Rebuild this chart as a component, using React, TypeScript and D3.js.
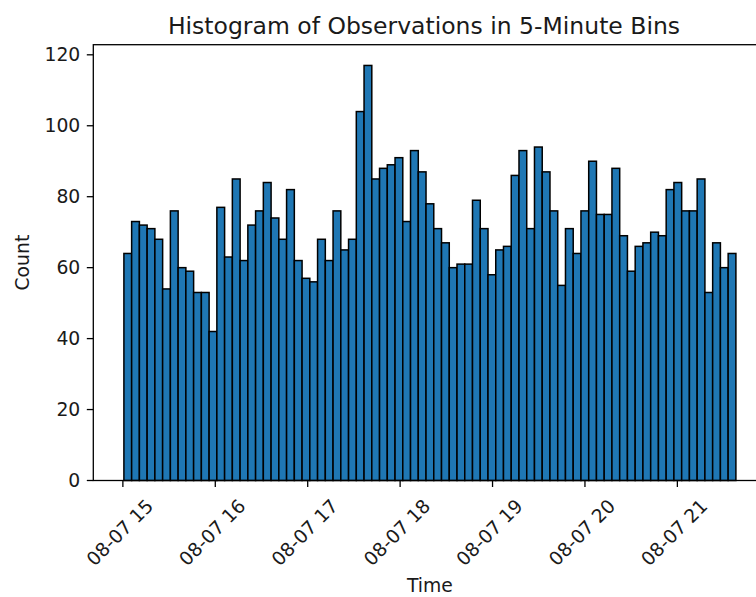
import React, { useEffect, useRef } from "react";
import * as d3 from "d3";

// counts per 5-minute bin
const counts = [
  64, 73, 72, 71, 68, 54, 76, 60, 59, 53, 53, 42, 77, 63, 85, 62, 72, 76, 84, 74,
  68, 82, 62, 57, 56, 68, 62, 76, 65, 68, 104, 117, 85, 88, 89, 91, 73, 93, 87, 78,
  71, 67, 60, 61, 61, 79, 71, 58, 65, 66, 86, 93, 71, 94, 87, 76, 55, 71, 64, 76,
  90, 75, 75, 88, 69, 59, 66, 67, 70, 69, 82, 84, 76, 76, 85, 53, 67, 60, 64,
];
const firstObservation = new Date(2023, 7, 7, 15, 0, 40);
const lastObservation = new Date(2023, 7, 7, 21, 38, 0);
const hourTicks = [15, 16, 17, 18, 19, 20, 21];
const countTicks = [0, 20, 40, 60, 80, 100, 120];

const FONT = "DejaVu Sans, sans-serif";

export default function App() {
  const svgRef = useRef<SVGSVGElement>(null);

  useEffect(() => {
    const width = 756;
    const height = 597;
    const margin = { top: 44.7, left: 93.3, bottom: 116.5 };
    const plotRight = 766.5; // right spine falls just outside the picture
    const plotBottom = height - margin.bottom;

    const svg = d3.select(svgRef.current);
    svg.selectAll("*").remove();
    svg.attr("width", width).attr("height", height);

    const t0 = +firstObservation;
    const t1 = +lastObservation;
    const pad = (t1 - t0) * 0.05;

    const x = d3.scaleTime()
      .domain([new Date(t0 - pad), new Date(t1 + pad)])
      .range([margin.left, plotRight]);

    const y = d3.scaleLinear()
      .domain([0, (d3.max(counts) as number) * 1.05])
      .range([plotBottom, margin.top]);

    const binWidth = (t1 - t0) / counts.length;
    const bins = counts.map((c, i) => ({
      x0: new Date(t0 + i * binWidth),
      x1: new Date(t0 + (i + 1) * binWidth),
      count: c,
    }));

    svg.append("rect")
      .attr("width", width)
      .attr("height", height)
      .attr("fill", "#ffffff");

    // bars
    svg.append("g")
      .selectAll("rect")
      .data(bins)
      .enter()
      .append("rect")
      .attr("x", d => x(d.x0))
      .attr("y", d => y(d.count))
      .attr("width", d => x(d.x1) - x(d.x0))
      .attr("height", d => plotBottom - y(d.count))
      .attr("fill", "#1f77b4")
      .attr("stroke", "#000000")
      .attr("stroke-width", 1.5);

    // spines
    svg.append("rect")
      .attr("x", margin.left)
      .attr("y", margin.top)
      .attr("width", plotRight - margin.left)
      .attr("height", plotBottom - margin.top)
      .attr("fill", "none")
      .attr("stroke", "#000000")
      .attr("stroke-width", 1.3);

    // y ticks
    const yAxis = svg.append("g");
    countTicks.forEach(v => {
      yAxis.append("line")
        .attr("x1", margin.left - 6.5)
        .attr("x2", margin.left)
        .attr("y1", y(v))
        .attr("y2", y(v))
        .attr("stroke", "#000000")
        .attr("stroke-width", 1.3);
      yAxis.append("text")
        .attr("x", margin.left - 13)
        .attr("y", y(v))
        .attr("text-anchor", "end")
        .attr("dominant-baseline", "central")
        .style("font-family", FONT)
        .style("font-size", "18.8px")
        .attr("fill", "#1a1a1a")
        .text(String(v));
    });

    // x ticks
    const fmt = d3.timeFormat("%m-%d %H");
    const xAxis = svg.append("g");
    hourTicks.forEach(h => {
      const t = new Date(2023, 7, 7, h, 0, 0);
      const px = x(t);
      xAxis.append("line")
        .attr("x1", px)
        .attr("x2", px)
        .attr("y1", plotBottom)
        .attr("y2", plotBottom + 6.5)
        .attr("stroke", "#000000")
        .attr("stroke-width", 1.3);
      xAxis.append("text")
        .attr("transform", `translate(${px - 3}, ${plotBottom + 52}) rotate(-45)`)
        .attr("text-anchor", "middle")
        .attr("dominant-baseline", "central")
        .style("font-family", FONT)
        .style("font-size", "18.8px")
        .attr("fill", "#1a1a1a")
        .text(fmt(t));
    });

    // labels
    svg.append("text")
      .attr("x", (margin.left + plotRight) / 2)
      .attr("y", 592)
      .attr("text-anchor", "middle")
      .style("font-family", FONT)
      .style("font-size", "18.8px")
      .attr("fill", "#1a1a1a")
      .text("Time");

    svg.append("text")
      .attr("transform", `translate(22.5, ${(margin.top + plotBottom) / 2}) rotate(-90)`)
      .attr("text-anchor", "middle")
      .attr("dominant-baseline", "central")
      .style("font-family", FONT)
      .style("font-size", "18.8px")
      .attr("fill", "#1a1a1a")
      .text("Count");

    svg.append("text")
      .attr("x", 424)
      .attr("y", 33.5)
      .attr("text-anchor", "middle")
      .style("font-family", FONT)
      .style("font-size", "23.5px")
      .attr("fill", "#1a1a1a")
      .text("Histogram of Observations in 5-Minute Bins");
  }, []);

  return (
    <div style={{ position: "absolute", left: 0, top: 0 }}>
      <svg ref={svgRef} style={{ display: "block" }}></svg>
    </div>
  );
}
